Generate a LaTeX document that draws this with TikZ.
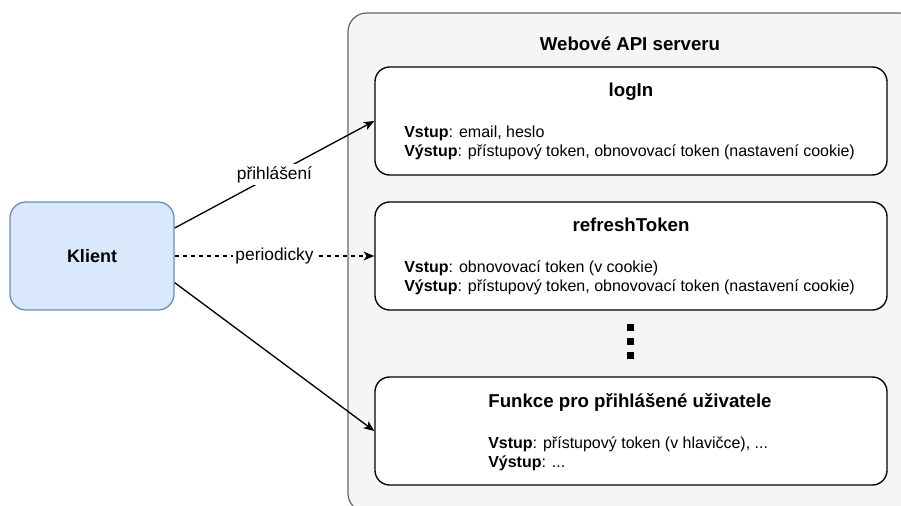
\documentclass[tikz,border=0pt]{standalone}
\usepackage{fontspec}
\setmainfont{Liberation Sans}
\usetikzlibrary{arrows.meta}

\definecolor{panelfill}{HTML}{F5F5F5}
\definecolor{panelline}{HTML}{666666}
\definecolor{clientfill}{HTML}{DAE8FC}
\definecolor{clientline}{HTML}{6C8EBF}

\begin{document}
\begin{tikzpicture}[x=0.75pt,y=-0.75pt,
  panel/.style={draw=panelline,fill=panelfill,line width=0.9pt,rounded corners=14pt},
  fnbox/.style={draw=black,fill=white,line width=1pt,rounded corners=11pt,
    minimum width=384pt,minimum height=81pt,inner sep=0pt},
  clientbox/.style={draw=clientline,fill=clientfill,line width=1pt,rounded corners=12pt,
    minimum width=123pt,minimum height=81pt,inner sep=0pt,
    font=\fontsize{13.5}{16}\selectfont\bfseries},
  paneltitle/.style={font=\fontsize{14}{17}\selectfont\bfseries,inner sep=0pt,anchor=base},
  fntitle/.style={font=\fontsize{14}{17}\selectfont\bfseries,inner sep=0pt,anchor=base},
  fnline/.style={font=\fontsize{12}{14.4}\selectfont,inner sep=0pt,anchor=base west},
  elabel/.style={font=\fontsize{13}{15.6}\selectfont,fill=white,inner sep=1.5pt},
  conn/.style={line width=1pt,-{Stealth[length=8pt,width=6.5pt,inset=2.2pt]}},
  dotmark/.style={fill=black,minimum size=5.2pt,inner sep=0pt}
]
  % page frame
  \useasboundingbox (0,0) rectangle (901,506);
  \clip (0,0) rectangle (901,506);

  % server panel
  \draw[panel] (348,13) rectangle (918,512);
  \node[paneltitle] (srvtitle) at (630,51) {Webové API serveru};

  % endpoints
  \node[fnbox] (login) at (631,121) {};
  \node[fntitle] (loginT) at (631,97) {logIn};
  \node[fnline] (loginIn) at (404,138) {\textbf{Vstup}: email, heslo};
  \node[fnline] (loginOut) at (404,157) {\textbf{Výstup}: přístupový token, obnovovací token (nastavení cookie)};

  \node[fnbox] (refresh) at (631,256) {};
  \node[fntitle] (refreshT) at (631,232) {refreshToken};
  \node[fnline] (refreshIn) at (404,273) {\textbf{Vstup}: obnovovací token (v cookie)};
  \node[fnline] (refreshOut) at (404,292) {\textbf{Výstup}: přístupový token, obnovovací token (nastavení cookie)};

  \node[dotmark] (dotA) at (630.5,327.5) {};
  \node[dotmark] (dotB) at (630.5,341.5) {};
  \node[dotmark] (dotC) at (630.5,355.5) {};

  \node[fnbox] (secure) at (631,431) {};
  \node[fntitle] (secureT) at (630,407) {Funkce pro přihlášené uživatele};
  \node[fnline] (secureIn) at (488,448) {\textbf{Vstup}: přístupový token (v hlavičce), ...};
  \node[fnline] (secureOut) at (488,467) {\textbf{Výstup}: ...};

  % client
  \node[clientbox] (client) at (92,256) {Klient};

  % calls
  \draw[conn] ([yshift=21pt]client.east) -- node[elabel] (lblLogin) {přihlášení} (login.west);
  \draw[conn,dash pattern=on 3pt off 3pt] (client.east) -- node[elabel] (lblPeriod) {periodicky} (refresh.west);
  \draw[conn] ([yshift=-20pt]client.east) -- (secure.west);
\end{tikzpicture}
\end{document}
